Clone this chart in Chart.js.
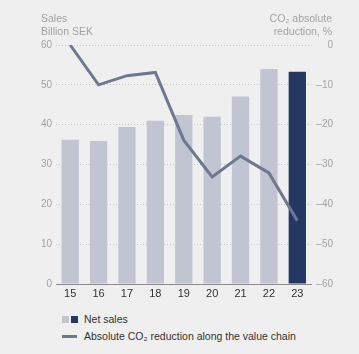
<!DOCTYPE html>
<html>
<head>
<meta charset="utf-8">
<script src="https://cdn.jsdelivr.net/npm/chart.js@4"></script>
<style>
  body { margin: 0; background: #efefef; font-family: "Liberation Sans", Arial, sans-serif; }
  #wrap { position: relative; width: 359px; height: 354px; overflow: hidden; }
  #chartBox { position: absolute; left: 0; top: 0; width: 359px; height: 300px; }
  .titulo { position: absolute; font-size: 10.5px; line-height: 13px; color: #a3a3a3; }
  .leyenda { position: absolute; left: 62px; font-size: 10.5px; color: #333; display: flex; align-items: center; }
  .cuadro { display: inline-block; width: 7px; height: 7px; margin-right: 2px; }
  .linea { display: inline-block; width: 15px; height: 3px; background: #6d7891; margin-right: 7px; }
</style>
</head>
<body>
<div id="wrap">
  <div id="chartBox"><canvas id="graficoVentas"></canvas></div>
  <div class="titulo" style="left:41px; top:12px;">Sales<br>Billion SEK</div>
  <div class="titulo" style="right:27px; top:12px; text-align:right;">CO₂ absolute<br>reduction, %</div>
  <div class="leyenda" style="top:313px;">
    <span class="cuadro" style="background:#c1c5d1"></span><span class="cuadro" style="background:#243862; margin-right:6px"></span>Net sales
  </div>
  <div class="leyenda" style="top:330px;">
    <span class="linea"></span>Absolute CO₂ reduction along the value chain
  </div>
</div>
<script>
const anios = ["15", "16", "17", "18", "19", "20", "21", "22", "23"];
const ventas = [36.2, 35.9, 39.4, 41.0, 42.4, 42.0, 47.1, 54.0, 53.3];
const reduccionCO2 = [0, -10, -7.7, -6.9, -23.9, -33.1, -27.9, -32.1, -44.1];
const ticksVentas = [0, 10, 20, 30, 40, 50, 60];
const ticksReduccion = [0, -10, -20, -30, -40, -50, -60];

const coloresBarras = anios.map((a, i) => i === anios.length - 1 ? "#243862" : "#c1c5d1");

const ctx = document.getElementById("graficoVentas").getContext("2d");
new Chart(ctx, {
    type: "bar",
    data: {
        labels: anios,
        datasets: [{
            type: "line",
            label: "Absolute CO2 reduction along the value chain",
            data: reduccionCO2,
            yAxisID: "yDer",
            borderColor: "#6d7891",
            borderWidth: 3,
            pointRadius: 0,
            tension: 0,
            order: 0
        }, {
            label: "Net sales",
            data: ventas,
            yAxisID: "yIzq",
            backgroundColor: coloresBarras,
            barPercentage: 0.61,
            categoryPercentage: 1,
            order: 1
        }]
    },
    options: {
        responsive: true,
        maintainAspectRatio: false,
        animation: false,
        layout: { padding: { left: 0, right: 26, top: 45, bottom: 0 } },
        plugins: { legend: { display: false }, tooltip: { enabled: false } },
        scales: {
            x: {
                grid: { display: false, drawTicks: false },
                border: { display: true, color: "#8a8a8a", width: 1 },
                ticks: { color: "#333", font: { size: 11, family: "Liberation Sans" }, padding: 3 },
                afterFit: s => { s.height = 16; }
            },
            yIzq: {
                position: "left",
                min: 0, max: 60,
                afterBuildTicks: s => { s.ticks = ticksVentas.map(v => ({ value: v })); },
                grid: {
                    color: c => c.tick.value === 0 ? "rgba(0,0,0,0)" : "#c4c4c4",
                    drawTicks: false,
                    lineWidth: 1
                },
                border: { display: false, dash: [1, 2] },
                ticks: { color: "#a3a3a3", font: { size: 10, family: "Liberation Sans" }, padding: 4 },
                afterFit: s => { s.width = 56; }
            },
            yDer: {
                position: "right",
                min: -60, max: 0,
                afterBuildTicks: s => { s.ticks = ticksReduccion.map(v => ({ value: v })); },
                grid: { display: false, drawTicks: false },
                border: { display: false },
                ticks: {
                    color: "#a3a3a3",
                    font: { size: 10, family: "Liberation Sans" },
                    crossAlign: "far",
                    padding: 3,
                    callback: v => v < 0 ? "\u2013" + Math.abs(v) : v
                },
                afterFit: s => { s.width = 21.5; }
            }
        }
    }
});
</script>
</body>
</html>
